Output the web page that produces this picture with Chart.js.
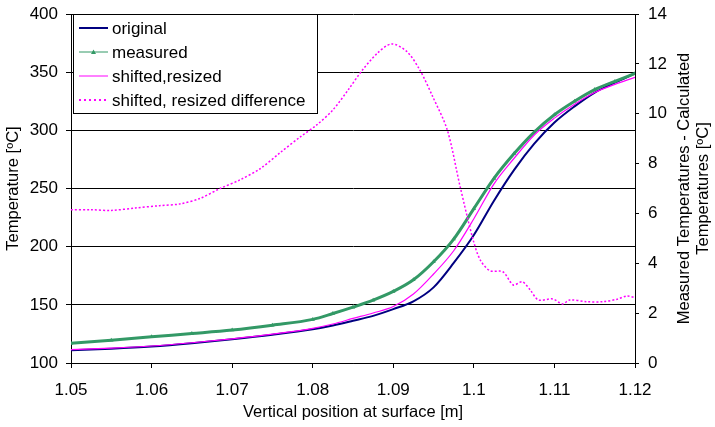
<!DOCTYPE html>
<html>
<head>
<meta charset="utf-8">
<script src="https://cdn.jsdelivr.net/npm/chart.js@4"></script>
<style>
  html, body { margin: 0; padding: 0; background: #fff; }
  #wrap { width: 715px; height: 427px; position: relative; }
</style>
</head>
<body>
<div id="wrap"><canvas id="chart" width="715" height="427"></canvas></div>
<script>
// temperature curves, sampled on a common x grid [m]
const xTemp = [1.05, 1.055, 1.06, 1.065, 1.07, 1.075, 1.08, 1.0825, 1.085, 1.0875, 1.09, 1.0925,
    1.095, 1.0975, 1.1, 1.1025, 1.105, 1.1075, 1.11, 1.1125, 1.115, 1.1175, 1.12];
const original = [110.9, 112.3, 114.2, 117, 120.4, 124.3, 129, 132.3, 136.3, 140.5, 146.3, 153,
    165, 186, 210, 239.5, 266, 288.5, 306.7, 320.6, 332.5, 341, 348.9];
const measured = [117, 119.5, 122.5, 125.3, 128.3, 132.5, 137.5, 142.5, 148, 154, 161.5, 171.5,
    187, 206.5, 232.7, 258.7, 280, 298.5, 313.4, 325, 335, 342, 348.9];
const shifted = [111.5, 112.8, 114.6, 117.4, 120.8, 124.8, 129.8, 133.5, 138.3, 143, 148.5, 159.3,
    176.5, 196.5, 224, 254, 276, 296, 310.5, 322.5, 332.5, 339.5, 345.5];

// difference curve (right axis)
const xDiff = [1.05, 1.0525, 1.055, 1.058, 1.061, 1.0635, 1.066, 1.0685, 1.071, 1.0735, 1.076, 1.0785,
    1.0805, 1.0825, 1.0845, 1.086, 1.088, 1.0898, 1.0917, 1.0933, 1.0949, 1.0967, 1.0983, 1.0999,
    1.1008, 1.102, 1.1036, 1.1049, 1.106, 1.107, 1.108, 1.1098, 1.111, 1.1119, 1.114, 1.116,
    1.1178, 1.119, 1.12];
const difference = [6.15, 6.15, 6.12, 6.22, 6.31, 6.38, 6.6, 7.0, 7.35, 7.8, 8.45, 9.08,
    9.55, 10.15, 11.0, 11.68, 12.42, 12.8, 12.49, 11.75, 10.68, 9.35, 7.07, 4.95,
    4.13, 3.7, 3.66, 3.13, 3.26, 2.93, 2.53, 2.57, 2.37, 2.53, 2.46, 2.46,
    2.56, 2.69, 2.62];

const seriesNames = ['original', 'measured', 'shifted,resized', 'shifted, resized difference'];
const leftTicks = [100, 150, 200, 250, 300, 350, 400];
const rightTitle = ['Measured Temperatures - Calculated', 'Temperatures [ºC]'];

const NAVY = '#000080';
const GREEN = '#339966';
const MAGENTA = '#ff00ff';
const FONT = 'Arial, "Liberation Sans", sans-serif';

const pts = (xs, ys) => xs.map((x, i) => ({ x, y: ys[i] }));

// legend box + right axis title, drawn on top
const extras = {
    id: 'extras',
    afterDraw(chart) {
        const ctx = chart.ctx;
        ctx.save();
        // legend
        const bx = 73.5, by = 14.5, bw = 244, bh = 99;
        ctx.fillStyle = '#fff';
        ctx.fillRect(bx, by, bw, bh);
        ctx.strokeStyle = '#000';
        ctx.lineWidth = 1;
        ctx.strokeRect(bx, by, bw, bh);
        const rows = [28, 52, 76, 100];
        ctx.font = '17px ' + FONT;
        ctx.textBaseline = 'middle';
        rows.forEach((ry, i) => {
            ctx.save();
            ctx.beginPath();
            ctx.moveTo(79, ry);
            ctx.lineTo(108, ry);
            if (i === 0) { ctx.strokeStyle = NAVY; ctx.lineWidth = 2; }
            if (i === 1) { ctx.strokeStyle = GREEN; ctx.lineWidth = 1; }
            if (i === 2) { ctx.strokeStyle = MAGENTA; ctx.lineWidth = 1; }
            if (i === 3) { ctx.strokeStyle = MAGENTA; ctx.lineWidth = 2; ctx.setLineDash([2, 3]); }
            ctx.stroke();
            if (i === 1) {
                ctx.fillStyle = GREEN;
                ctx.beginPath();
                ctx.moveTo(93.5, ry - 2.5);
                ctx.lineTo(96, ry + 2);
                ctx.lineTo(91, ry + 2);
                ctx.closePath();
                ctx.fill();
            }
            ctx.restore();
            ctx.fillStyle = '#000';
            ctx.fillText(seriesNames[i], 112, ry + 1);
        });
        // right axis title, reading bottom to top
        ctx.font = '16.5px ' + FONT;
        ctx.textAlign = 'center';
        const cy = (chart.chartArea.top + chart.chartArea.bottom) / 2;
        [684, 703].forEach((lx, i) => {
            ctx.save();
            ctx.translate(lx, cy);
            ctx.rotate(-Math.PI / 2);
            ctx.fillText(rightTitle[i], 0, 0);
            ctx.restore();
        });
        ctx.restore();
    },
};

new Chart(document.getElementById('chart'), {
    type: 'line',
    data: {
        datasets: [
            {
                label: seriesNames[0],
                data: pts(xTemp, original),
                yAxisID: 'y',
                borderColor: NAVY,
                borderWidth: 2,
                pointRadius: 0,
                cubicInterpolationMode: 'monotone',
                order: 3,
            },
            {
                label: seriesNames[1],
                data: pts(xTemp, measured),
                yAxisID: 'y',
                borderColor: GREEN,
                backgroundColor: GREEN,
                borderWidth: 3,
                pointStyle: 'triangle',
                pointRadius: 2.5,
                pointBorderWidth: 0,
                cubicInterpolationMode: 'monotone',
                order: 2,
            },
            {
                label: seriesNames[2],
                data: pts(xTemp, shifted),
                yAxisID: 'y',
                borderColor: MAGENTA,
                borderWidth: 1.2,
                pointRadius: 0,
                cubicInterpolationMode: 'monotone',
                order: 1,
            },
            {
                label: seriesNames[3],
                data: pts(xDiff, difference),
                yAxisID: 'y2',
                borderColor: MAGENTA,
                borderWidth: 1.5,
                borderDash: [2, 2],
                pointRadius: 0,
                tension: 0.3,
                order: 0,
            },
        ],
    },
    options: {
        responsive: false,
        animation: false,
        layout: { padding: { top: 14, left: 0, right: 0, bottom: 0 } },
        plugins: { legend: { display: false }, tooltip: { enabled: false } },
        scales: {
            x: {
                type: 'linear',
                min: 1.05,
                max: 1.12,
                afterFit: (s) => { s.height = 64; s.paddingLeft = 0; s.paddingRight = 0; },
                ticks: {
                    stepSize: 0.01,
                    color: '#000',
                    padding: 12,
                    maxRotation: 0,
                    font: { family: FONT, size: 17 },
                    callback: (v) => String(Math.round(v * 100) / 100),
                },
                grid: { drawOnChartArea: false, color: '#000', tickLength: 5 },
                border: { color: '#000', width: 1 },
                title: {
                    display: true,
                    text: 'Vertical position at surface [m]',
                    color: '#000',
                    font: { family: FONT, size: 16.5 },
                    padding: { top: 0, bottom: 5 },
                },
            },
            y: {
                position: 'left',
                min: 100,
                max: 400,
                afterFit: (s) => { s.width = 71; s.paddingTop = 0; s.paddingBottom = 0; },
                afterBuildTicks: (s) => { s.ticks = leftTicks.map((v) => ({ value: v })); },
                ticks: { color: '#000', padding: 8, font: { family: FONT, size: 17 } },
                grid: { color: '#000', lineWidth: 1, tickLength: 5 },
                border: { color: '#000', width: 1 },
                title: {
                    display: true,
                    text: 'Temperature [ºC]',
                    color: '#000',
                    font: { family: FONT, size: 16.5 },
                    padding: { top: 4, bottom: 0 },
                },
            },
            y2: {
                position: 'right',
                min: 0,
                max: 14,
                afterFit: (s) => { s.width = 80; s.paddingTop = 0; s.paddingBottom = 0; },
                ticks: { stepSize: 2, color: '#000', padding: 9, font: { family: FONT, size: 17 } },
                grid: { drawOnChartArea: false, color: '#000', tickLength: 4 },
                border: { color: '#000', width: 1 },
            },
        },
    },
    plugins: [extras],
});
</script>
</body>
</html>
